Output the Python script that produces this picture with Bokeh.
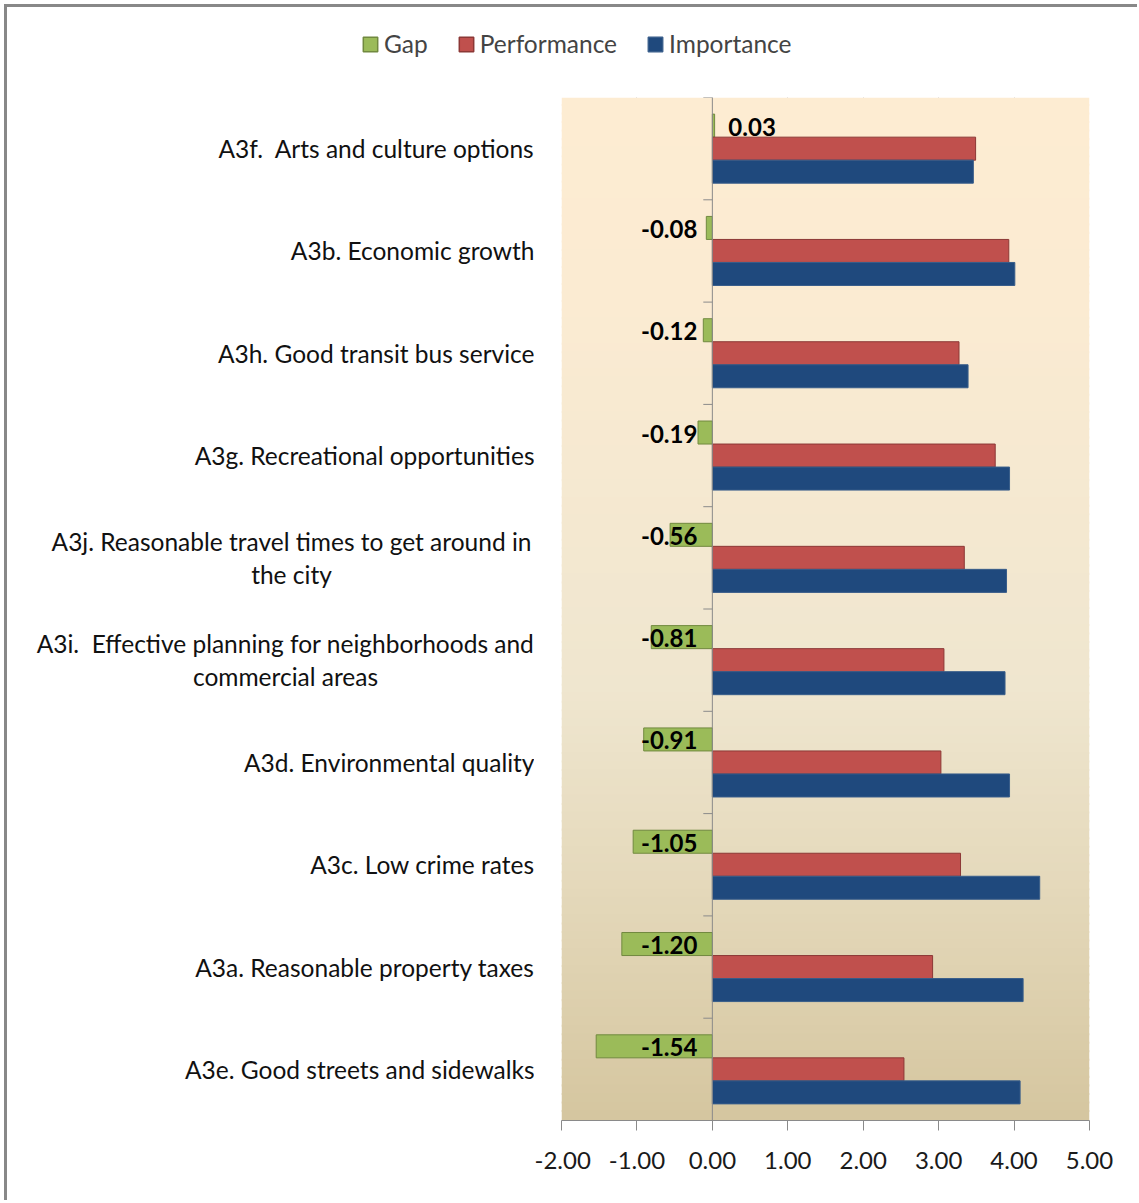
from bokeh.plotting import figure
from bokeh.models import (FactorRange, ColumnDataSource, LabelSet, Legend, LegendItem,
                          FixedTicker, NumeralTickFormatter, Span, Range1d)
from bokeh.layouts import column, row
from bokeh.transform import dodge
from bokeh.core.properties import value
from bokeh.embed import file_html
from bokeh.resources import INLINE

categories = [
    "A3f.\u00a0 Arts and culture options",
    "A3b. Economic growth",
    "A3h. Good transit bus service",
    "A3g. Recreational opportunities",
    "A3j. Reasonable travel times to get around in\nthe city",
    "A3i.\u00a0 Effective planning for neighborhoods and\ncommercial areas",
    "A3d. Environmental quality",
    "A3c. Low crime rates",
    "A3a. Reasonable property taxes",
    "A3e. Good streets and sidewalks",
]
gap = [0.03, -0.08, -0.12, -0.19, -0.56, -0.81, -0.91, -1.05, -1.20, -1.54]
performance = [3.49, 3.93, 3.27, 3.75, 3.34, 3.07, 3.03, 3.29, 2.92, 2.54]
importance = [3.46, 4.01, 3.39, 3.94, 3.90, 3.88, 3.94, 4.34, 4.12, 4.08]
x_ticks = [-2, -1, 0, 1, 2, 3, 4, 5]
series = ["Gap", "Performance", "Importance"]

FONT = "Lato"
GREEN, GREEN_L = "#9BBB59", "#71893F"
RED, RED_L = "#C0504D", "#8C3836"
BLUE, BLUE_L = "#1F497D", "#385D8A"

# layout (pixels)
LEFT_W = 527      # width of the category-label panel
MAIN_LB = 27      # left border of the main chart (room for "-2.00")
FRAME_W = 528
FRAME_H = 1023
RIGHT_B = 48
BOTTOM_B = 80
TOP_H = 90

y_range = FactorRange(factors=categories[::-1])

# ---------------- main chart ----------------
p = figure(y_range=y_range, x_range=(-2, 5),
           frame_width=FRAME_W, frame_height=FRAME_H,
           min_border_left=MAIN_LB, min_border_right=RIGHT_B, min_border_top=0,
           min_border_bottom=BOTTOM_B, y_axis_location=None,
           output_backend="svg", toolbar_location=None)
p.outline_line_color = None
p.background_fill_color = "white"
p.border_fill_color = "white"

# background gradient (decoration); bands overlap slightly to avoid seams
stops = [(0.0, (253, 236, 210)), (0.2, (251, 235, 210)), (0.58, (239, 230, 207)),
         (0.78, (228, 216, 186)), (1.0, (213, 198, 160))]
n = 120
bl, tp, cl = [], [], []
for i in range(n):
    f = (i + 0.5) / n
    for k in range(len(stops) - 1):
        if stops[k][0] <= f <= stops[k + 1][0]:
            a, ca = stops[k]
            b, cb = stops[k + 1]
            t = (f - a) / (b - a)
            c = tuple(int(round(ca[j] + (cb[j] - ca[j]) * t)) for j in range(3))
            break
    cl.append("#%02x%02x%02x" % c)
    tp.append(min(len(categories), len(categories) * (1 - i / n) + 0.02))
    bl.append(len(categories) * (1 - (i + 1) / n))
p.quad(left=-2, right=5, bottom=bl, top=tp, fill_color=cl, line_color=None)

p.xgrid.ticker = FixedTicker(ticks=x_ticks)
p.xgrid.grid_line_color = "#8a8a8a"
p.xgrid.grid_line_width = 1
p.ygrid.grid_line_color = None
p.xgrid.level = "underlay"

src = ColumnDataSource(dict(
    cat=categories, gap=gap, perf=performance, imp=importance,
    lbl=["%.2f" % v for v in gap],
    align=["left" if v >= 0 else "right" for v in gap],
    xoff=[16 if v >= 0 else -15 for v in gap],
))

H = 0.225
r_gap = p.hbar(y=dodge("cat", H, range=y_range), left=0, right="gap", height=H,
               source=src, fill_color=GREEN, line_color=GREEN_L, line_width=1)
r_perf = p.hbar(y=dodge("cat", 0, range=y_range), left=0, right="perf", height=H,
                source=src, fill_color=RED, line_color=RED_L, line_width=1)
r_imp = p.hbar(y=dodge("cat", -H, range=y_range), left=0, right="imp", height=H,
               source=src, fill_color=BLUE, line_color=BLUE_L, line_width=1)

p.add_layout(Span(location=0, dimension="height", line_color="#8a8a8a", line_width=1))
nb = len(categories)
p.segment(x0=-0.12, x1=0, y0=list(range(nb + 1)), y1=list(range(nb + 1)),
          line_color="#8a8a8a", line_width=1)

labels = LabelSet(x=0, y=dodge("cat", H, range=y_range), text="lbl", source=src,
                  text_align="align", x_offset="xoff", y_offset=-1, text_baseline="middle",
                  text_font=value(FONT), text_font_size=value("24px"),
                  text_font_style=value("bold"), text_color=value("black"))
p.add_layout(labels)

p.xaxis.ticker = FixedTicker(ticks=x_ticks)
p.xaxis.formatter = NumeralTickFormatter(format="0.00")
p.xaxis.axis_line_color = "#8a8a8a"
p.xaxis.major_tick_line_color = "#8a8a8a"
p.xaxis.major_tick_out = 10
p.xaxis.major_tick_in = 0
p.xaxis.minor_tick_line_color = None
p.xaxis.major_label_text_font = FONT
p.xaxis.major_label_text_font_size = "24px"
p.xaxis.major_label_text_color = "#1a1a1a"
p.xaxis.major_label_standoff = 21

# ---------------- category label panel ----------------
lab = figure(y_range=y_range, x_range=Range1d(0, LEFT_W),
             frame_width=LEFT_W, frame_height=FRAME_H,
             min_border_left=0, min_border_right=0, min_border_top=0,
             min_border_bottom=BOTTOM_B, x_axis_location=None, y_axis_location=None,
             output_backend="svg", toolbar_location=None)
lab.outline_line_color = None
lab.grid.grid_line_color = None
lab.border_fill_color = "white"
lab.background_fill_color = "white"

LABEL_RIGHT = 527
two_line_center = {4: 284, 5: 278}
cat_x = [two_line_center.get(i, LABEL_RIGHT) for i in range(nb)]
cat_align = ["center" if i in two_line_center else "right" for i in range(nb)]
lab_src = ColumnDataSource(dict(cat=categories, x=cat_x, align=cat_align))
lab.text(x="x", y="cat", text="cat", source=lab_src, text_align="align",
         text_baseline="middle", text_font=value(FONT), text_font_size="24.5px",
         text_color="#111111", text_line_height=1.12)

# ---------------- legend panel ----------------
leg = figure(width=LEFT_W + MAIN_LB + FRAME_W + RIGHT_B, height=TOP_H,
             x_range=(0, 1), y_range=(0, 1), min_border=0,
             x_axis_location=None, y_axis_location=None,
             output_backend="svg", toolbar_location=None)
leg.outline_line_color = None
leg.grid.grid_line_color = None
leg.border_fill_color = "white"
leg.background_fill_color = "white"
hidden = dict(y=[-10], right=[0])
lg = leg.hbar(y="y", right="right", height=1, source=ColumnDataSource(hidden),
              fill_color=GREEN, line_color=GREEN_L, line_width=1.5)
lr = leg.hbar(y="y", right="right", height=1, source=ColumnDataSource(hidden),
              fill_color=RED, line_color=RED_L, line_width=1.5)
lbb = leg.hbar(y="y", right="right", height=1, source=ColumnDataSource(hidden),
               fill_color=BLUE, line_color=BLUE_L, line_width=1.5)
legend = Legend(items=[LegendItem(label=series[0], renderers=[lg]),
                       LegendItem(label=series[1], renderers=[lr]),
                       LegendItem(label=series[2], renderers=[lbb])],
                orientation="horizontal", location=(354, 39),
                glyph_width=18, glyph_height=18, label_standoff=5, spacing=29,
                label_height=24, label_text_font=FONT, label_text_font_size="24.5px",
                label_text_baseline="middle",
                background_fill_alpha=0, border_line_color=None, padding=0, margin=0)
leg.add_layout(legend, "center")

layout = column(leg, row(lab, p), spacing=0,
                styles={"border-left": "3px solid #888888",
                        "border-top": "3px solid #888888",
                        "margin-left": "4px", "margin-top": "4px"})

open("out.html", "w").write(file_html(layout, INLINE))
